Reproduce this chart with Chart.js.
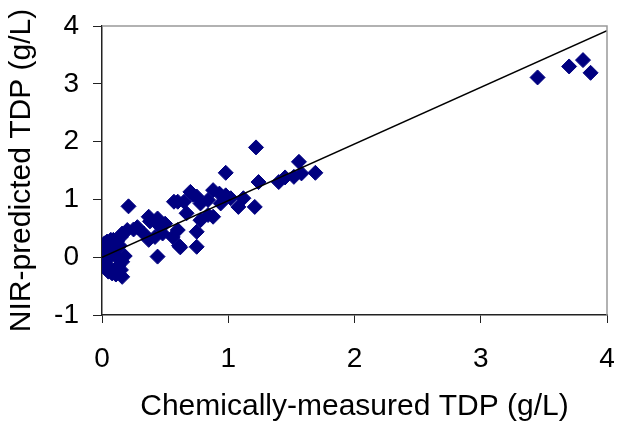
<!DOCTYPE html>
<html>
<head>
<meta charset="utf-8">
<title>NIR-predicted vs chemically-measured TDP</title>
<script src="https://cdn.jsdelivr.net/npm/chart.js@4/dist/chart.umd.min.js"></script>
<style>
  html, body { margin: 0; padding: 0; background: #fff; }
  #wrap { width: 618px; height: 426px; }
</style>
</head>
<body>
<div id="wrap"><canvas id="scatterChart" width="618" height="426"></canvas></div>
<script>
  // Measured (x) and predicted (y) values
  const measured = [
    3.45, 3.70, 3.81, 3.87,
    1.22, 1.56, 1.69, 1.58, 1.52, 1.45, 1.40, 1.24, 1.21, 1.12, 1.08, 1.02,
    0.98, 0.98, 0.94, 0.88, 0.84, 0.70, 0.65, 0.84, 0.78, 0.88, 0.93, 0.75,
    0.72, 0.57, 0.60, 0.67, 0.78,
    0.75, 0.62, 0.75, 0.44, 0.37, 0.44, 0.50, 0.33, 0.37, 0.42, 0.48, 0.56,
    0.61, 0.28, 0.20, 0.15, 0.09, 0.04, 0.21, 0.60, 0.38, 0.45, 0.25, 0.16,
    0.02, 0.03, 0.05, 0.02, 0.04, 0.02, 0.06, 0.08, 0.16, 0.10, 0.13, 0.16,
    0.12, 0.18, 0.10, 0.14, 0.07, 0.12, 0.05, 0.11, 0.09, 0.15, 0.03
  ];
  const predicted = [
    3.11, 3.30, 3.41, 3.19,
    1.90, 1.65, 1.46, 1.45, 1.39, 1.38, 1.30, 1.30, 0.87, 1.02, 0.87, 1.02,
    1.07, 1.46, 0.93, 1.16, 0.99, 1.13, 0.96, 0.73, 0.64, 0.70, 1.10, 1.05,
    1.08, 0.96, 0.96, 0.76, 0.93,
    0.18, 0.17, 0.44, 0.01, 0.70, 0.67, 0.58, 0.41, 0.30, 0.35, 0.41, 0.35,
    0.20, 0.52, 0.47, 0.35, 0.30, 0.27, 0.88, 0.47, 0.62, 0.55, 0.48, 0.41,
    0.24, 0.15, 0.08, 0.02, -0.05, -0.12, -0.18, -0.28, -0.34, -0.22, -0.15, -0.08,
    0.00, 0.02, 0.12, 0.20, 0.30, 0.28, -0.25, -0.30, 0.06, -0.22, -0.20
  ];

  // Fitted line end points
  const lineX = [0, 4];
  const lineY = [0, 3.92];

  // Axis tick values
  const xTicks = [0, 1, 2, 3, 4];
  const yTicks = [-1, 0, 1, 2, 3, 4];

  const fontFamily = 'Arial, "Liberation Sans", sans-serif';

  const points = measured.map((x, i) => ({ x: x, y: predicted[i] }));
  const linePoints = lineX.map((x, i) => ({ x: x, y: lineY[i] }));

  // Grey frame on the top and right sides of the plot area
  const frameLines = {
    id: 'frameLines',
    afterDraw(chart) {
      const area = chart.chartArea;
      const ctx = chart.ctx;
      ctx.save();
      ctx.strokeStyle = '#999';
      ctx.lineWidth = 1.5;
      ctx.beginPath();
      ctx.moveTo(area.left, area.top);
      ctx.lineTo(area.right, area.top);
      ctx.lineTo(area.right, area.bottom);
      ctx.stroke();
      ctx.restore();
    }
  };

  const ctx = document.getElementById('scatterChart');
  const scatterChart = new Chart(ctx, {
    type: 'scatter',
    data: {
      datasets: [
        {
          label: 'Samples',
          data: points,
          pointStyle: 'rectRot',
          pointRadius: 7.5,
          pointHoverRadius: 7.5,
          backgroundColor: '#000080',
          borderColor: '#000080',
          borderWidth: 1,
          order: 1
        },
        {
          type: 'line',
          label: 'Fit',
          data: linePoints,
          borderColor: '#000',
          borderWidth: 1.5,
          pointRadius: 0,
          fill: false,
          order: 0
        }
      ]
    },
    options: {
      responsive: false,
      animation: false,
      devicePixelRatio: 1,
      layout: {
        padding: { top: 26, right: 11, left: 0, bottom: 0 }
      },
      plugins: {
        legend: { display: false },
        tooltip: { enabled: false }
      },
      scales: {
        x: {
          type: 'linear',
          min: 0,
          max: 4,
          afterBuildTicks: scale => { scale.ticks = xTicks.map(v => ({ value: v })); },
          ticks: {
            color: '#000',
            font: { family: fontFamily, size: 28 },
            padding: 19,
            maxRotation: 0
          },
          grid: { drawOnChartArea: false, tickLength: 8, color: '#222' },
          border: { color: '#222', width: 1.5 },
          title: {
            display: true,
            text: 'Chemically-measured TDP (g/L)',
            color: '#000',
            font: { family: fontFamily, size: 30 },
            padding: { top: 0, bottom: 1 }
          },
          // fixed axis box, no extra room for the end labels
          afterFit: scale => {
            scale.height = 111;
            scale.paddingLeft = 0;
            scale.paddingRight = 0;
          }
        },
        y: {
          type: 'linear',
          min: -1,
          max: 4,
          afterBuildTicks: scale => { scale.ticks = yTicks.map(v => ({ value: v })); },
          ticks: {
            color: '#000',
            font: { family: fontFamily, size: 28 },
            padding: 14
          },
          grid: { drawOnChartArea: false, tickLength: 9, color: '#222' },
          border: { color: '#222', width: 1.5 },
          title: {
            display: true,
            text: 'NIR-predicted TDP (g/L)',
            color: '#000',
            font: { family: fontFamily, size: 30 },
            padding: { top: 4, bottom: 0 }
          },
          afterFit: scale => {
            scale.width = 102;
            scale.paddingTop = 0;
            scale.paddingBottom = 0;
          }
        }
      }
    },
    plugins: [frameLines]
  });
</script>
</body>
</html>
